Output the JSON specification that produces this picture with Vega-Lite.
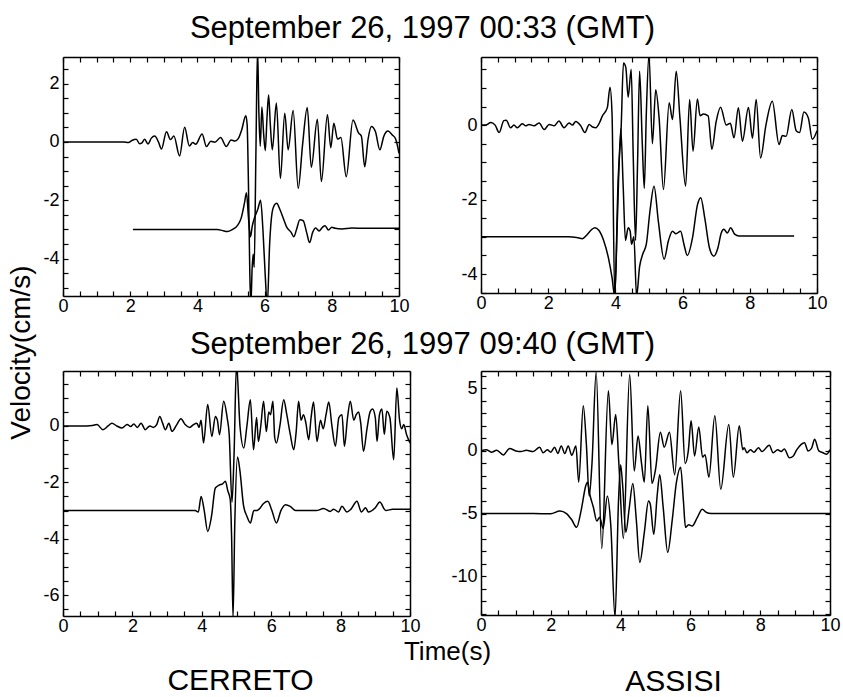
{
"$schema": "https://vega.github.io/schema/vega-lite/v6.json",
"background": "white",
"padding": {"left": 7, "top": 12, "right": 0, "bottom": 0},
"config": {
 "view": {"stroke": null},
 "font": "Liberation Sans",
 "axis": {"grid": false, "labelFont": "Liberation Sans", "labelFontSize": 18, "labelColor": "black", "tickColor": "black", "domainColor": "black", "domainWidth": 1.5, "tickWidth": 1.2, "tickSize": -5, "labelPadding": 9, "labelFlush": false, "labelOverlap": false, "titleFont": "Liberation Sans", "titleFontWeight": "normal", "titleColor": "black", "titleAlign": "center", "titleBaseline": "alphabetic"},
 "axisBottom": {"labelPadding": 6}
},
"datasets": {
"tl": [
{"s":"a","t":0,"v":0},{"s":"a","t":1.8,"v":0},{"s":"a","t":1.95,"v":-0.02},{"s":"a","t":2.05,"v":0.05},{"s":"a","t":2.18,"v":0.09},{"s":"a","t":2.28,"v":-0.06},{"s":"a","t":2.35,"v":-0.03},{"s":"a","t":2.43,"v":0.09},{"s":"a","t":2.53,"v":-0.07},{"s":"a","t":2.63,"v":0.13},{"s":"a","t":2.73,"v":0.2},{"s":"a","t":2.84,"v":0.0},{"s":"a","t":2.93,"v":-0.24},{"s":"a","t":3.08,"v":0.35},{"s":"a","t":3.2,"v":0.08},{"s":"a","t":3.3,"v":0.2},{"s":"a","t":3.47,"v":-0.48},{"s":"a","t":3.62,"v":0.5},{"s":"a","t":3.76,"v":-0.14},{"s":"a","t":3.86,"v":-0.02},{"s":"a","t":3.95,"v":-0.08},{"s":"a","t":4.14,"v":0.27},{"s":"a","t":4.27,"v":-0.16},{"s":"a","t":4.4,"v":0.02},{"s":"a","t":4.52,"v":-0.01},{"s":"a","t":4.69,"v":0.15},{"s":"a","t":4.86,"v":-0.16},{"s":"a","t":5.0,"v":0.07},{"s":"a","t":5.12,"v":0.03},{"s":"a","t":5.22,"v":0.12},{"s":"a","t":5.32,"v":0.42},{"s":"a","t":5.44,"v":0.9},{"s":"a","t":5.48,"v":0.6},{"s":"a","t":5.52,"v":-1.5},{"s":"a","t":5.56,"v":-4.5},{"s":"a","t":5.59,"v":-5.6},{"s":"a","t":5.63,"v":-4.3},{"s":"a","t":5.66,"v":-3.85},{"s":"a","t":5.69,"v":-4.3},{"s":"a","t":5.74,"v":-0.5},{"s":"a","t":5.79,"v":3.2},{"s":"a","t":5.83,"v":1.0},{"s":"a","t":5.87,"v":-0.15},{"s":"a","t":5.92,"v":1.2},{"s":"a","t":5.97,"v":0.3},{"s":"a","t":6.02,"v":-0.3},{"s":"a","t":6.07,"v":0.8},{"s":"a","t":6.12,"v":1.61},{"s":"a","t":6.17,"v":0.6},{"s":"a","t":6.23,"v":-0.27},{"s":"a","t":6.35,"v":1.33},{"s":"a","t":6.47,"v":-1.25},{"s":"a","t":6.6,"v":0.98},{"s":"a","t":6.7,"v":-0.27},{"s":"a","t":6.85,"v":1.08},{"s":"a","t":7.0,"v":-1.59},{"s":"a","t":7.13,"v":-0.1},{"s":"a","t":7.27,"v":1.18},{"s":"a","t":7.39,"v":-0.87},{"s":"a","t":7.57,"v":0.78},{"s":"a","t":7.69,"v":-1.36},{"s":"a","t":7.87,"v":0.93},{"s":"a","t":7.97,"v":-0.2},{"s":"a","t":8.06,"v":0.64},{"s":"a","t":8.17,"v":0.1},{"s":"a","t":8.27,"v":0.15},{"s":"a","t":8.43,"v":-1.19},{"s":"a","t":8.63,"v":0.75},{"s":"a","t":8.8,"v":0.3},{"s":"a","t":8.88,"v":0.2},{"s":"a","t":8.98,"v":-0.85},{"s":"a","t":9.08,"v":0.1},{"s":"a","t":9.18,"v":0.53},{"s":"a","t":9.3,"v":0.35},{"s":"a","t":9.43,"v":-0.27},{"s":"a","t":9.55,"v":0.2},{"s":"a","t":9.67,"v":0.37},{"s":"a","t":9.8,"v":0.24},{"s":"a","t":9.9,"v":0.1},{"s":"a","t":10,"v":-0.39},
{"s":"b","t":2.08,"v":-3},{"s":"b","t":3.0,"v":-3},{"s":"b","t":4.0,"v":-3},{"s":"b","t":4.6,"v":-3.0},{"s":"b","t":4.75,"v":-3.04},{"s":"b","t":4.9,"v":-3.07},{"s":"b","t":5.05,"v":-3.0},{"s":"b","t":5.2,"v":-2.85},{"s":"b","t":5.3,"v":-2.62},{"s":"b","t":5.4,"v":-2.1},{"s":"b","t":5.46,"v":-1.74},{"s":"b","t":5.52,"v":-2.6},{"s":"b","t":5.58,"v":-3.25},{"s":"b","t":5.63,"v":-2.9},{"s":"b","t":5.7,"v":-2.6},{"s":"b","t":5.8,"v":-2.3},{"s":"b","t":5.88,"v":-2.0},{"s":"b","t":5.95,"v":-3.0},{"s":"b","t":6.02,"v":-4.6},{"s":"b","t":6.08,"v":-5.6},{"s":"b","t":6.15,"v":-3.5},{"s":"b","t":6.22,"v":-2.45},{"s":"b","t":6.3,"v":-2.15},{"s":"b","t":6.36,"v":-2.1},{"s":"b","t":6.45,"v":-2.3},{"s":"b","t":6.55,"v":-2.6},{"s":"b","t":6.65,"v":-2.9},{"s":"b","t":6.79,"v":-3.1},{"s":"b","t":6.87,"v":-3.25},{"s":"b","t":6.95,"v":-3.0},{"s":"b","t":7.05,"v":-2.67},{"s":"b","t":7.15,"v":-2.7},{"s":"b","t":7.25,"v":-3.1},{"s":"b","t":7.34,"v":-3.45},{"s":"b","t":7.43,"v":-3.1},{"s":"b","t":7.52,"v":-2.95},{"s":"b","t":7.62,"v":-3.05},{"s":"b","t":7.72,"v":-2.93},{"s":"b","t":7.8,"v":-2.87},{"s":"b","t":7.9,"v":-3.02},{"s":"b","t":8.0,"v":-2.92},{"s":"b","t":8.1,"v":-2.96},{"s":"b","t":8.3,"v":-2.98},{"s":"b","t":8.6,"v":-2.95},{"s":"b","t":9.0,"v":-2.96},{"s":"b","t":10,"v":-2.96}
],
"tr": [
{"s":"a","t":0,"v":0},{"s":"a","t":0.14,"v":0.0},{"s":"a","t":0.29,"v":0.07},{"s":"a","t":0.42,"v":0.0},{"s":"a","t":0.54,"v":-0.2},{"s":"a","t":0.68,"v":0.12},{"s":"a","t":0.75,"v":0.13},{"s":"a","t":0.88,"v":-0.07},{"s":"a","t":0.98,"v":0.0},{"s":"a","t":1.08,"v":-0.07},{"s":"a","t":1.23,"v":0.04},{"s":"a","t":1.33,"v":-0.02},{"s":"a","t":1.43,"v":0.02},{"s":"a","t":1.58,"v":-0.02},{"s":"a","t":1.73,"v":0.06},{"s":"a","t":1.88,"v":-0.12},{"s":"a","t":2.03,"v":0.02},{"s":"a","t":2.18,"v":-0.02},{"s":"a","t":2.32,"v":0.11},{"s":"a","t":2.47,"v":-0.07},{"s":"a","t":2.62,"v":0.06},{"s":"a","t":2.72,"v":0.0},{"s":"a","t":2.82,"v":0.1},{"s":"a","t":2.97,"v":-0.02},{"s":"a","t":3.09,"v":-0.2},{"s":"a","t":3.22,"v":0.02},{"s":"a","t":3.32,"v":-0.05},{"s":"a","t":3.42,"v":-0.07},{"s":"a","t":3.52,"v":0.05},{"s":"a","t":3.61,"v":0.24},{"s":"a","t":3.76,"v":0.47},{"s":"a","t":3.84,"v":1.02},{"s":"a","t":3.9,"v":0.3},{"s":"a","t":3.98,"v":-4.6},{"s":"a","t":4.08,"v":-1.5},{"s":"a","t":4.17,"v":-0.1},{"s":"a","t":4.24,"v":1.67},{"s":"a","t":4.31,"v":1.55},{"s":"a","t":4.38,"v":0.75},{"s":"a","t":4.47,"v":1.5},{"s":"a","t":4.53,"v":-0.8},{"s":"a","t":4.6,"v":-3.1},{"s":"a","t":4.66,"v":-1.0},{"s":"a","t":4.72,"v":1.45},{"s":"a","t":4.8,"v":-0.5},{"s":"a","t":4.86,"v":-1.7},{"s":"a","t":4.92,"v":0.3},{"s":"a","t":5.0,"v":1.9},{"s":"a","t":5.1,"v":-0.5},{"s":"a","t":5.2,"v":0.95},{"s":"a","t":5.3,"v":0.2},{"s":"a","t":5.43,"v":-1.73},{"s":"a","t":5.6,"v":0.6},{"s":"a","t":5.7,"v":0.15},{"s":"a","t":5.81,"v":1.45},{"s":"a","t":5.92,"v":0.2},{"s":"a","t":6.09,"v":-1.64},{"s":"a","t":6.21,"v":0.69},{"s":"a","t":6.31,"v":-0.7},{"s":"a","t":6.44,"v":0.7},{"s":"a","t":6.52,"v":0.25},{"s":"a","t":6.62,"v":0.3},{"s":"a","t":6.76,"v":0.25},{"s":"a","t":6.87,"v":-0.65},{"s":"a","t":7.0,"v":0.1},{"s":"a","t":7.13,"v":0.48},{"s":"a","t":7.3,"v":0.0},{"s":"a","t":7.42,"v":0.05},{"s":"a","t":7.53,"v":-0.34},{"s":"a","t":7.66,"v":0.47},{"s":"a","t":7.78,"v":-0.43},{"s":"a","t":7.96,"v":0.47},{"s":"a","t":8.08,"v":-0.35},{"s":"a","t":8.19,"v":0.69},{"s":"a","t":8.32,"v":-0.88},{"s":"a","t":8.48,"v":0.0},{"s":"a","t":8.67,"v":0.64},{"s":"a","t":8.87,"v":-0.52},{"s":"a","t":8.97,"v":-0.28},{"s":"a","t":9.08,"v":-0.3},{"s":"a","t":9.25,"v":0.42},{"s":"a","t":9.38,"v":-0.15},{"s":"a","t":9.48,"v":-0.2},{"s":"a","t":9.61,"v":0.35},{"s":"a","t":9.74,"v":0.2},{"s":"a","t":9.86,"v":-0.38},{"s":"a","t":10,"v":-0.15},
{"s":"b","t":0,"v":-3},{"s":"b","t":2.0,"v":-3.0},{"s":"b","t":2.6,"v":-3.0},{"s":"b","t":2.85,"v":-3.02},{"s":"b","t":3.02,"v":-3.05},{"s":"b","t":3.15,"v":-2.95},{"s":"b","t":3.3,"v":-2.8},{"s":"b","t":3.39,"v":-2.76},{"s":"b","t":3.5,"v":-2.82},{"s":"b","t":3.65,"v":-3.1},{"s":"b","t":3.8,"v":-3.6},{"s":"b","t":3.9,"v":-4.1},{"s":"b","t":3.98,"v":-4.6},{"s":"b","t":4.06,"v":-2.5},{"s":"b","t":4.16,"v":-0.1},{"s":"b","t":4.23,"v":-1.6},{"s":"b","t":4.3,"v":-3.1},{"s":"b","t":4.38,"v":-2.76},{"s":"b","t":4.44,"v":-2.85},{"s":"b","t":4.48,"v":-3.2},{"s":"b","t":4.55,"v":-3.0},{"s":"b","t":4.63,"v":-4.6},{"s":"b","t":4.72,"v":-3.8},{"s":"b","t":4.82,"v":-3.45},{"s":"b","t":4.92,"v":-3.2},{"s":"b","t":5.03,"v":-2.3},{"s":"b","t":5.15,"v":-1.64},{"s":"b","t":5.28,"v":-2.6},{"s":"b","t":5.45,"v":-3.6},{"s":"b","t":5.58,"v":-3.1},{"s":"b","t":5.7,"v":-2.85},{"s":"b","t":5.8,"v":-2.92},{"s":"b","t":5.94,"v":-2.85},{"s":"b","t":6.04,"v":-3.2},{"s":"b","t":6.14,"v":-3.5},{"s":"b","t":6.3,"v":-3.0},{"s":"b","t":6.44,"v":-2.15},{"s":"b","t":6.54,"v":-1.95},{"s":"b","t":6.66,"v":-2.5},{"s":"b","t":6.8,"v":-3.3},{"s":"b","t":6.93,"v":-3.52},{"s":"b","t":7.05,"v":-3.3},{"s":"b","t":7.15,"v":-2.9},{"s":"b","t":7.23,"v":-2.8},{"s":"b","t":7.33,"v":-2.9},{"s":"b","t":7.43,"v":-2.76},{"s":"b","t":7.55,"v":-2.93},{"s":"b","t":7.68,"v":-2.98},{"s":"b","t":8.0,"v":-2.98},{"s":"b","t":9.32,"v":-2.98}
],
"bl": [
{"s":"a","t":0,"v":0},{"s":"a","t":0.5,"v":0.0},{"s":"a","t":0.85,"v":0.02},{"s":"a","t":0.98,"v":0.05},{"s":"a","t":1.15,"v":-0.13},{"s":"a","t":1.3,"v":0.0},{"s":"a","t":1.41,"v":0.1},{"s":"a","t":1.55,"v":0.0},{"s":"a","t":1.7,"v":-0.07},{"s":"a","t":1.85,"v":0.05},{"s":"a","t":1.95,"v":-0.02},{"s":"a","t":2.04,"v":0.07},{"s":"a","t":2.14,"v":-0.05},{"s":"a","t":2.25,"v":0.1},{"s":"a","t":2.37,"v":-0.13},{"s":"a","t":2.5,"v":0.0},{"s":"a","t":2.6,"v":-0.05},{"s":"a","t":2.7,"v":0.05},{"s":"a","t":2.79,"v":0.34},{"s":"a","t":2.87,"v":0.1},{"s":"a","t":2.95,"v":-0.13},{"s":"a","t":3.05,"v":0.1},{"s":"a","t":3.14,"v":-0.19},{"s":"a","t":3.28,"v":0.05},{"s":"a","t":3.4,"v":0.26},{"s":"a","t":3.52,"v":0.05},{"s":"a","t":3.65,"v":-0.05},{"s":"a","t":3.76,"v":0.05},{"s":"a","t":3.86,"v":0.1},{"s":"a","t":3.92,"v":-0.05},{"s":"a","t":3.98,"v":0.2},{"s":"a","t":4.05,"v":-0.6},{"s":"a","t":4.17,"v":0.76},{"s":"a","t":4.29,"v":-0.37},{"s":"a","t":4.39,"v":0.34},{"s":"a","t":4.45,"v":0.2},{"s":"a","t":4.51,"v":-0.31},{"s":"a","t":4.63,"v":0.88},{"s":"a","t":4.73,"v":0.3},{"s":"a","t":4.79,"v":-0.3},{"s":"a","t":4.87,"v":-2.7},{"s":"a","t":4.93,"v":-1.0},{"s":"a","t":5.0,"v":2.2},{"s":"a","t":5.1,"v":0.0},{"s":"a","t":5.21,"v":-0.78},{"s":"a","t":5.3,"v":0.0},{"s":"a","t":5.4,"v":0.93},{"s":"a","t":5.49,"v":-0.84},{"s":"a","t":5.58,"v":0.3},{"s":"a","t":5.63,"v":-0.55},{"s":"a","t":5.7,"v":0.0},{"s":"a","t":5.78,"v":0.88},{"s":"a","t":5.86,"v":-0.2},{"s":"a","t":5.93,"v":0.5},{"s":"a","t":5.98,"v":0.4},{"s":"a","t":6.05,"v":0.88},{"s":"a","t":6.1,"v":-0.4},{"s":"a","t":6.15,"v":-0.6},{"s":"a","t":6.25,"v":0.0},{"s":"a","t":6.36,"v":0.93},{"s":"a","t":6.45,"v":0.4},{"s":"a","t":6.55,"v":-0.3},{"s":"a","t":6.65,"v":-0.84},{"s":"a","t":6.72,"v":-0.2},{"s":"a","t":6.79,"v":0.88},{"s":"a","t":6.86,"v":0.2},{"s":"a","t":6.93,"v":0.4},{"s":"a","t":7.0,"v":0.1},{"s":"a","t":7.08,"v":-0.49},{"s":"a","t":7.15,"v":0.3},{"s":"a","t":7.22,"v":0.85},{"s":"a","t":7.32,"v":-0.55},{"s":"a","t":7.42,"v":0.2},{"s":"a","t":7.5,"v":-0.1},{"s":"a","t":7.58,"v":0.4},{"s":"a","t":7.66,"v":0.85},{"s":"a","t":7.75,"v":0.0},{"s":"a","t":7.85,"v":-0.72},{"s":"a","t":7.95,"v":0.3},{"s":"a","t":8.04,"v":0.4},{"s":"a","t":8.11,"v":-0.72},{"s":"a","t":8.2,"v":0.3},{"s":"a","t":8.28,"v":0.88},{"s":"a","t":8.38,"v":0.2},{"s":"a","t":8.45,"v":0.4},{"s":"a","t":8.52,"v":0.5},{"s":"a","t":8.58,"v":0.1},{"s":"a","t":8.66,"v":-0.9},{"s":"a","t":8.76,"v":-0.1},{"s":"a","t":8.85,"v":0.5},{"s":"a","t":8.92,"v":0.6},{"s":"a","t":9.0,"v":0.3},{"s":"a","t":9.05,"v":-0.55},{"s":"a","t":9.12,"v":0.4},{"s":"a","t":9.19,"v":0.6},{"s":"a","t":9.26,"v":-0.3},{"s":"a","t":9.33,"v":0.52},{"s":"a","t":9.42,"v":0.3},{"s":"a","t":9.53,"v":-1.2},{"s":"a","t":9.62,"v":1.35},{"s":"a","t":9.7,"v":0.2},{"s":"a","t":9.76,"v":-0.1},{"s":"a","t":9.82,"v":0.05},{"s":"a","t":9.9,"v":-0.3},{"s":"a","t":10,"v":-0.6},
{"s":"b","t":0,"v":-3},{"s":"b","t":3.81,"v":-3},{"s":"b","t":3.9,"v":-3.05},{"s":"b","t":3.98,"v":-2.5},{"s":"b","t":4.07,"v":-3.0},{"s":"b","t":4.17,"v":-3.74},{"s":"b","t":4.28,"v":-3.2},{"s":"b","t":4.39,"v":-2.2},{"s":"b","t":4.5,"v":-2.1},{"s":"b","t":4.6,"v":-2.05},{"s":"b","t":4.68,"v":-1.96},{"s":"b","t":4.75,"v":-2.3},{"s":"b","t":4.82,"v":-2.61},{"s":"b","t":4.86,"v":-4.0},{"s":"b","t":4.9,"v":-6.8},{"s":"b","t":4.95,"v":-3.5},{"s":"b","t":5.03,"v":-1.1},{"s":"b","t":5.1,"v":-1.6},{"s":"b","t":5.2,"v":-2.8},{"s":"b","t":5.3,"v":-3.2},{"s":"b","t":5.4,"v":-3.44},{"s":"b","t":5.5,"v":-3.0},{"s":"b","t":5.59,"v":-3.0},{"s":"b","t":5.65,"v":-2.95},{"s":"b","t":5.78,"v":-2.75},{"s":"b","t":5.9,"v":-2.67},{"s":"b","t":6.02,"v":-3.0},{"s":"b","t":6.15,"v":-3.44},{"s":"b","t":6.28,"v":-3.0},{"s":"b","t":6.41,"v":-2.79},{"s":"b","t":6.55,"v":-2.85},{"s":"b","t":6.7,"v":-3.0},{"s":"b","t":7.0,"v":-3.0},{"s":"b","t":7.3,"v":-3.0},{"s":"b","t":7.51,"v":-2.93},{"s":"b","t":7.7,"v":-3.03},{"s":"b","t":7.8,"v":-2.95},{"s":"b","t":7.94,"v":-3.05},{"s":"b","t":8.04,"v":-2.85},{"s":"b","t":8.18,"v":-3.05},{"s":"b","t":8.3,"v":-2.95},{"s":"b","t":8.47,"v":-2.67},{"s":"b","t":8.6,"v":-3.05},{"s":"b","t":8.72,"v":-2.9},{"s":"b","t":8.8,"v":-3.05},{"s":"b","t":9.0,"v":-2.9},{"s":"b","t":9.13,"v":-2.7},{"s":"b","t":9.3,"v":-3.0},{"s":"b","t":9.5,"v":-2.95},{"s":"b","t":10,"v":-2.95}
],
"br": [
{"s":"a","t":0,"v":0},{"s":"a","t":0.15,"v":0.1},{"s":"a","t":0.3,"v":-0.1},{"s":"a","t":0.45,"v":0.05},{"s":"a","t":0.64,"v":-0.32},{"s":"a","t":0.82,"v":0.2},{"s":"a","t":1.0,"v":0.0},{"s":"a","t":1.15,"v":-0.05},{"s":"a","t":1.3,"v":0.05},{"s":"a","t":1.5,"v":-0.05},{"s":"a","t":1.68,"v":0.3},{"s":"a","t":1.78,"v":-0.15},{"s":"a","t":1.9,"v":0.1},{"s":"a","t":2.0,"v":-0.1},{"s":"a","t":2.11,"v":0.3},{"s":"a","t":2.2,"v":-0.2},{"s":"a","t":2.3,"v":0.4},{"s":"a","t":2.4,"v":-0.2},{"s":"a","t":2.5,"v":0.4},{"s":"a","t":2.6,"v":-0.35},{"s":"a","t":2.72,"v":0.4},{"s":"a","t":2.8,"v":-2.5},{"s":"a","t":2.93,"v":3.6},{"s":"a","t":3.02,"v":0.5},{"s":"a","t":3.1,"v":-3.6},{"s":"a","t":3.18,"v":-1.0},{"s":"a","t":3.3,"v":6.3},{"s":"a","t":3.46,"v":-7.8},{"s":"a","t":3.65,"v":4.8},{"s":"a","t":3.75,"v":0.5},{"s":"a","t":3.86,"v":2.9},{"s":"a","t":3.95,"v":-1.0},{"s":"a","t":4.08,"v":-7.0},{"s":"a","t":4.26,"v":6.1},{"s":"a","t":4.39,"v":-1.6},{"s":"a","t":4.5,"v":1.2},{"s":"a","t":4.6,"v":-1.0},{"s":"a","t":4.68,"v":-2.5},{"s":"a","t":4.78,"v":3.6},{"s":"a","t":4.9,"v":-2.6},{"s":"a","t":5.0,"v":-1.5},{"s":"a","t":5.14,"v":1.5},{"s":"a","t":5.25,"v":0.3},{"s":"a","t":5.4,"v":1.5},{"s":"a","t":5.55,"v":-1.9},{"s":"a","t":5.72,"v":4.8},{"s":"a","t":5.85,"v":-1.0},{"s":"a","t":5.94,"v":0.0},{"s":"a","t":6.02,"v":2.4},{"s":"a","t":6.12,"v":-0.4},{"s":"a","t":6.24,"v":1.9},{"s":"a","t":6.35,"v":-0.5},{"s":"a","t":6.42,"v":-0.3},{"s":"a","t":6.53,"v":-2.1},{"s":"a","t":6.7,"v":2.8},{"s":"a","t":6.87,"v":-3.06},{"s":"a","t":7.1,"v":2.1},{"s":"a","t":7.23,"v":-2.1},{"s":"a","t":7.4,"v":2.0},{"s":"a","t":7.5,"v":0.1},{"s":"a","t":7.54,"v":0.26},{"s":"a","t":7.62,"v":-0.15},{"s":"a","t":7.72,"v":0.1},{"s":"a","t":7.82,"v":-0.1},{"s":"a","t":7.95,"v":0.25},{"s":"a","t":8.05,"v":-0.05},{"s":"a","t":8.26,"v":0.45},{"s":"a","t":8.37,"v":-0.15},{"s":"a","t":8.5,"v":0.1},{"s":"a","t":8.6,"v":-0.05},{"s":"a","t":8.69,"v":0.15},{"s":"a","t":8.84,"v":-0.55},{"s":"a","t":8.95,"v":-0.4},{"s":"a","t":9.05,"v":0.1},{"s":"a","t":9.27,"v":0.66},{"s":"a","t":9.37,"v":0.0},{"s":"a","t":9.47,"v":0.2},{"s":"a","t":9.56,"v":0.93},{"s":"a","t":9.68,"v":0.0},{"s":"a","t":9.8,"v":-0.15},{"s":"a","t":9.9,"v":-0.27},{"s":"a","t":10,"v":0.1},
{"s":"b","t":0,"v":-5},{"s":"b","t":1.5,"v":-5},{"s":"b","t":2.0,"v":-5.02},{"s":"b","t":2.26,"v":-4.8},{"s":"b","t":2.45,"v":-5.0},{"s":"b","t":2.6,"v":-5.5},{"s":"b","t":2.74,"v":-6.1},{"s":"b","t":2.88,"v":-4.6},{"s":"b","t":3.0,"v":-2.8},{"s":"b","t":3.05,"v":-2.5},{"s":"b","t":3.12,"v":-3.5},{"s":"b","t":3.22,"v":-4.5},{"s":"b","t":3.32,"v":-5.6},{"s":"b","t":3.4,"v":-5.3},{"s":"b","t":3.5,"v":-6.2},{"s":"b","t":3.62,"v":-3.6},{"s":"b","t":3.72,"v":-6.0},{"s":"b","t":3.84,"v":-13.3},{"s":"b","t":3.94,"v":-4.0},{"s":"b","t":4.0,"v":-1.1},{"s":"b","t":4.06,"v":-2.8},{"s":"b","t":4.15,"v":-6.5},{"s":"b","t":4.25,"v":-4.5},{"s":"b","t":4.35,"v":-2.6},{"s":"b","t":4.45,"v":-5.5},{"s":"b","t":4.55,"v":-8.9},{"s":"b","t":4.68,"v":-6.5},{"s":"b","t":4.8,"v":-4.0},{"s":"b","t":4.85,"v":-4.25},{"s":"b","t":4.95,"v":-6.65},{"s":"b","t":5.05,"v":-3.5},{"s":"b","t":5.12,"v":-1.9},{"s":"b","t":5.22,"v":-4.5},{"s":"b","t":5.35,"v":-8.1},{"s":"b","t":5.48,"v":-5.5},{"s":"b","t":5.6,"v":-2.5},{"s":"b","t":5.72,"v":-1.3},{"s":"b","t":5.8,"v":-4.0},{"s":"b","t":5.86,"v":-6.1},{"s":"b","t":5.95,"v":-5.9},{"s":"b","t":6.05,"v":-6.0},{"s":"b","t":6.2,"v":-5.3},{"s":"b","t":6.34,"v":-4.65},{"s":"b","t":6.45,"v":-4.9},{"s":"b","t":6.6,"v":-5.0},{"s":"b","t":10,"v":-5.0}
]
},
"columns": 2,
"spacing": 69,
"bounds": "flush",
"align": "all",
"concat": [
{
 "width": 336, "height": 239,
 "data": {"name": "tl"},
 "layer": [
  {"mark": {"type": "line", "clip": true, "color": "black", "strokeWidth": 1.5, "interpolate": "monotone"},
   "encoding": {
    "x": {"field": "t", "type": "quantitative", "scale": {"domain": [0, 10], "nice": false, "zero": false}, "axis": {"orient": "bottom", "title": null, "values": [0,0.5,1,1.5,2,2.5,3,3.5,4,4.5,5,5.5,6,6.5,7,7.5,8,8.5,9,9.5,10], "labelExpr": "datum.value % 2 === 0 ? toString(datum.value) : ''"}},
    "y": {"field": "v", "type": "quantitative", "scale": {"domain": [-5.28, 2.91], "nice": false, "zero": false}, "axis": {"orient": "left", "title": "Velocity(cm/s)", "titleFontSize": 28, "titleX": -34, "titleY": 295, "titleAngle": -90, "values": [-5,-4.5,-4,-3.5,-3,-2.5,-2,-1.5,-1,-0.5,0,0.5,1,1.5,2,2.5], "labelExpr": "datum.value % 2 === 0 ? toString(datum.value) : ''"}},
    "detail": {"field": "s"}
   }},
  {"mark": {"type": "line", "opacity": 0, "clip": true},
   "encoding": {
    "x": {"field": "t", "type": "quantitative", "axis": {"orient": "top", "title": "September 26, 1997 00:33 (GMT)", "titleFontSize": 31, "titleX": 359, "titleY": -20, "titleAngle": 0, "labels": false, "values": [0,0.5,1,1.5,2,2.5,3,3.5,4,4.5,5,5.5,6,6.5,7,7.5,8,8.5,9,9.5,10]}},
    "y": {"field": "v", "type": "quantitative", "axis": {"orient": "right", "title": null, "labels": false, "values": [-5,-4.5,-4,-3.5,-3,-2.5,-2,-1.5,-1,-0.5,0,0.5,1,1.5,2,2.5]}},
    "detail": {"field": "s"}
   }}
 ],
 "resolve": {"axis": {"x": "independent", "y": "independent"}}
},
{
 "width": 336, "height": 236,
 "data": {"name": "tr"},
 "layer": [
  {"mark": {"type": "line", "clip": true, "color": "black", "strokeWidth": 1.5, "interpolate": "monotone"},
   "encoding": {
    "x": {"field": "t", "type": "quantitative", "scale": {"domain": [0, 10], "nice": false, "zero": false}, "axis": {"orient": "bottom", "title": null, "values": [0,0.5,1,1.5,2,2.5,3,3.5,4,4.5,5,5.5,6,6.5,7,7.5,8,8.5,9,9.5,10], "labelExpr": "datum.value % 2 === 0 ? toString(datum.value) : ''"}},
    "y": {"field": "v", "type": "quantitative", "scale": {"domain": [-4.51, 1.83], "nice": false, "zero": false}, "axis": {"orient": "left", "title": null, "values": [-4.5,-4,-3.5,-3,-2.5,-2,-1.5,-1,-0.5,0,0.5,1,1.5], "labelExpr": "datum.value % 2 === 0 ? toString(datum.value) : ''"}},
    "detail": {"field": "s"}
   }},
  {"mark": {"type": "line", "opacity": 0, "clip": true},
   "encoding": {
    "x": {"field": "t", "type": "quantitative", "axis": {"orient": "top", "title": null, "labels": false, "values": [0,0.5,1,1.5,2,2.5,3,3.5,4,4.5,5,5.5,6,6.5,7,7.5,8,8.5,9,9.5,10]}},
    "y": {"field": "v", "type": "quantitative", "axis": {"orient": "right", "title": null, "labels": false, "values": [-4.5,-4,-3.5,-3,-2.5,-2,-1.5,-1,-0.5,0,0.5,1,1.5]}},
    "detail": {"field": "s"}
   }}
 ],
 "resolve": {"axis": {"x": "independent", "y": "independent"}}
},
{
 "width": 347, "height": 245,
 "data": {"name": "bl"},
 "layer": [
  {"mark": {"type": "line", "clip": true, "color": "black", "strokeWidth": 1.5, "interpolate": "monotone"},
   "encoding": {
    "x": {"field": "t", "type": "quantitative", "scale": {"domain": [0, 10], "nice": false, "zero": false}, "axis": {"orient": "bottom", "title": "CERRETO", "titleFontSize": 30, "titleX": 177, "titleY": 73, "titleAngle": 0, "values": [0,0.5,1,1.5,2,2.5,3,3.5,4,4.5,5,5.5,6,6.5,7,7.5,8,8.5,9,9.5,10], "labelExpr": "datum.value % 2 === 0 ? toString(datum.value) : ''"}},
    "y": {"field": "v", "type": "quantitative", "scale": {"domain": [-6.74, 1.95], "nice": false, "zero": false}, "axis": {"orient": "left", "title": null, "values": [-6.5,-6,-5.5,-5,-4.5,-4,-3.5,-3,-2.5,-2,-1.5,-1,-0.5,0,0.5,1,1.5], "labelExpr": "datum.value % 2 === 0 ? toString(datum.value) : ''"}},
    "detail": {"field": "s"}
   }},
  {"mark": {"type": "line", "opacity": 0, "clip": true},
   "encoding": {
    "x": {"field": "t", "type": "quantitative", "axis": {"orient": "top", "title": "September 26, 1997 09:40 (GMT)", "titleFontSize": 31, "titleX": 359, "titleY": -18, "titleAngle": 0, "labels": false, "values": [0,0.5,1,1.5,2,2.5,3,3.5,4,4.5,5,5.5,6,6.5,7,7.5,8,8.5,9,9.5,10]}},
    "y": {"field": "v", "type": "quantitative", "axis": {"orient": "right", "title": null, "labels": false, "values": [-6.5,-6,-5.5,-5,-4.5,-4,-3.5,-3,-2.5,-2,-1.5,-1,-0.5,0,0.5,1,1.5]}},
    "detail": {"field": "s"}
   }}
 ],
 "resolve": {"axis": {"x": "independent", "y": "independent"}}
},
{
 "width": 349, "height": 244,
 "data": {"name": "br"},
 "layer": [
  {"mark": {"type": "line", "clip": true, "color": "black", "strokeWidth": 1.5, "interpolate": "monotone"},
   "encoding": {
    "x": {"field": "t", "type": "quantitative", "scale": {"domain": [0, 10], "nice": false, "zero": false}, "axis": {"orient": "bottom", "title": "ASSISI", "titleFontSize": 30, "titleX": 192, "titleY": 75, "titleAngle": 0, "values": [0,0.5,1,1.5,2,2.5,3,3.5,4,4.5,5,5.5,6,6.5,7,7.5,8,8.5,9,9.5,10], "labelExpr": "datum.value % 2 === 0 ? toString(datum.value) : ''"}},
    "y": {"field": "v", "type": "quantitative", "scale": {"domain": [-13.1, 6.38], "nice": false, "zero": false}, "axis": {"orient": "left", "title": null, "values": [-13,-12,-11,-10,-9,-8,-7,-6,-5,-4,-3,-2,-1,0,1,2,3,4,5,6], "labelExpr": "datum.value % 5 === 0 ? toString(datum.value) : ''"}},
    "detail": {"field": "s"}
   }},
  {"mark": {"type": "line", "opacity": 0, "clip": true},
   "encoding": {
    "x": {"field": "t", "type": "quantitative", "axis": {"orient": "top", "title": "Time(s)", "titleFontSize": 26, "titleX": -34, "titleY": 288, "titleAngle": 0, "labels": false, "values": [0,0.5,1,1.5,2,2.5,3,3.5,4,4.5,5,5.5,6,6.5,7,7.5,8,8.5,9,9.5,10]}},
    "y": {"field": "v", "type": "quantitative", "axis": {"orient": "right", "title": null, "labels": false, "values": [-13,-12,-11,-10,-9,-8,-7,-6,-5,-4,-3,-2,-1,0,1,2,3,4,5,6]}},
    "detail": {"field": "s"}
   }}
 ],
 "resolve": {"axis": {"x": "independent", "y": "independent"}}
}
]
}
